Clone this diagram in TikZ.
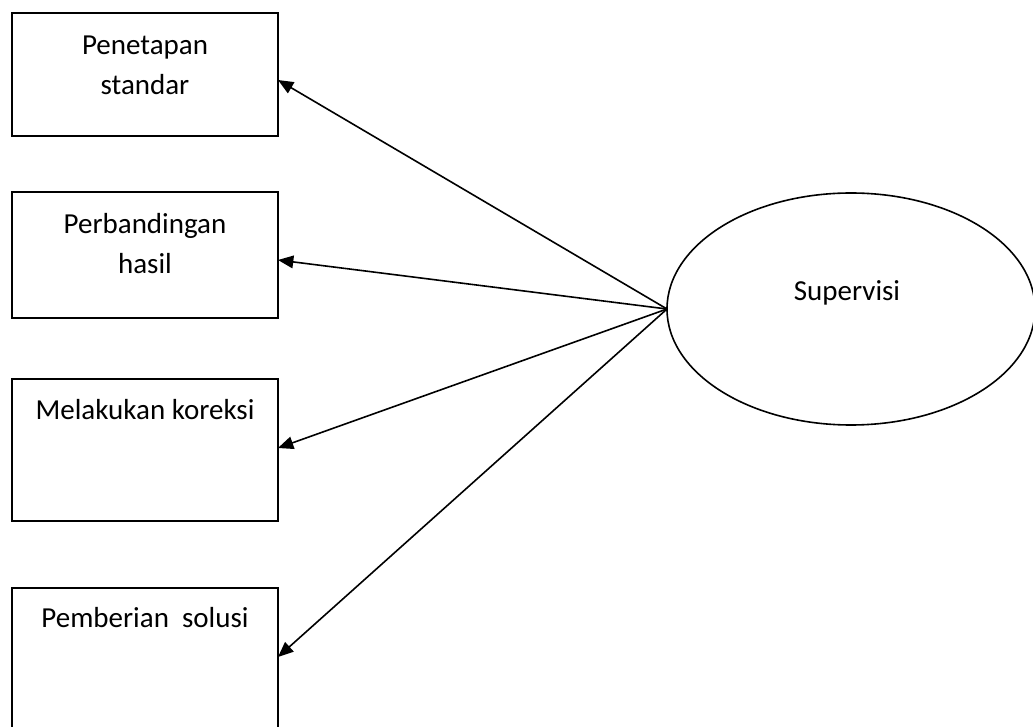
\documentclass[tikz,border=0pt]{standalone}
\usepackage{fontspec}
\setmainfont{Carlito}
\usetikzlibrary{shapes.geometric,arrows.meta,calc}
\begin{document}
\begin{tikzpicture}[x=0.75pt,y=-0.75pt,
  stepbox/.style={draw,line width=1.5pt,rectangle,inner sep=0pt,outer sep=0pt},
  boxtext/.style={align=center,inner sep=0pt,font=\fontsize{21.75}{30}\selectfont},
  hub/.style={draw,line width=1.2pt,ellipse,inner sep=0pt,outer sep=0pt,
    minimum width=276pt,minimum height=174pt},
  link/.style={line width=1.2pt,-{Triangle[length=11.5pt,width=9.5pt]}}]
  \fill[white] (0,0) rectangle (1033,727);
  \clip (0,0) rectangle (1033,727);
  \useasboundingbox (0,0) rectangle (1033,727);

  % four activity boxes on the left
  \node[stepbox,minimum width=199.5pt,minimum height=92.25pt] (b1) at (145,74.5) {};
  \node[stepbox,minimum width=199.5pt,minimum height=94.5pt]  (b2) at (145,255) {};
  \node[stepbox,minimum width=199.5pt,minimum height=106.5pt] (b3) at (145,450) {};
  \node[stepbox,minimum width=199.5pt,minimum height=106.5pt] (b4) at (145,659) {};

  \node[boxtext] (t1) at (145,65) {Penetapan\\standar};
  \node[boxtext] (t2) at (145,244) {Perbandingan\\hasil};
  \node[boxtext] (t3) at (145,410) {Melakukan koreksi};
  \node[boxtext] (t4) at (145,618) {Pemberian\ \ solusi};

  % central ellipse
  \node[hub] (sup) at (851,309) {};
  \node[boxtext] (supl) at (847,293) {Supervisi};

  % arrows from the ellipse to each box
  \draw[link] (sup.west) -- ($(b1.north east)+(0,67)$);
  \draw[link] (sup.west) -- ($(b2.north east)+(0,68)$);
  \draw[link] (sup.west) -- ($(b3.north east)+(0,69)$);
  \draw[link] (sup.west) -- ($(b4.north east)+(0,69)$);
\end{tikzpicture}
\end{document}
